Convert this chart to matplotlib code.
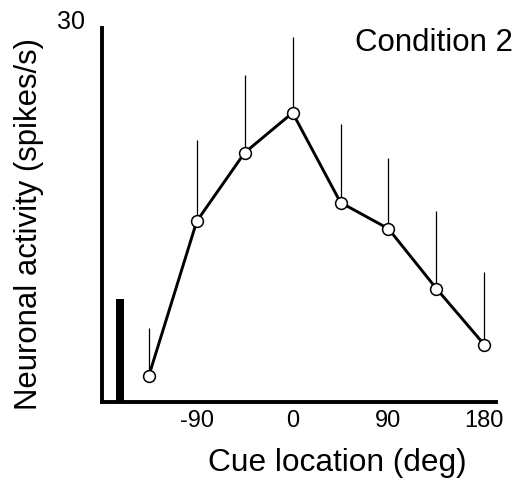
import numpy as np
import matplotlib
matplotlib.use('Agg')
import matplotlib.pyplot as plt

plt.rcParams['font.family'] = ['Liberation Sans', 'DejaVu Sans']

# cue locations (deg) and mean activity with upward error bars
cue_deg = [-135, -90, -45, 0, 45, 90, 135, 180]
rate = [2.1, 14.5, 20.0, 23.2, 16.0, 13.9, 9.1, 4.6]
err_up = [3.8, 6.5, 6.2, 6.1, 6.3, 5.7, 6.2, 5.8]
baseline_x = -162
baseline = 8.3
xticks = [-90, 0, 90, 180]

fig = plt.figure(figsize=(5.15, 4.83), dpi=100)
ax = fig.add_axes([102 / 515, 81 / 483, 394 / 515, 374 / 483])

ax.bar([baseline_x], [baseline], width=6.9, color='black', zorder=2)
ax.errorbar(cue_deg, rate, yerr=[np.zeros(len(err_up)), err_up], fmt='none',
            ecolor='black', elinewidth=0.9, capsize=0, zorder=2)
ax.plot(cue_deg, rate, color='black', lw=2.1, marker='o', ms=8.5,
        mfc='white', mec='black', mew=1.1, zorder=3)

ax.set_xlim(-179, 191)
ax.set_ylim(0, 30)
ax.set_xticks(xticks)
ax.set_xticklabels([str(t) for t in xticks], fontsize=17)
ax.set_yticks([])
ax.tick_params(axis='x', length=0, pad=6)
for s in ['top', 'right']:
    ax.spines[s].set_visible(False)
for s in ['left', 'bottom']:
    ax.spines[s].set_linewidth(2.8)

ax.text(-0.043, 1.016, '30', transform=ax.transAxes, ha='right', va='center', fontsize=18)
ax.text(1.043, 0.96, 'Condition 2', transform=ax.transAxes, ha='right', va='center', fontsize=22.5)

fig.text(337 / 515, 1 - 463 / 483, 'Cue location (deg)', ha='center', va='center', fontsize=22.8)
fig.text(29 / 515, 1 - 224 / 483, 'Neuronal activity (spikes/s)', ha='center', va='center',
         rotation=90, fontsize=22.4)

fig.savefig('out.png', dpi=100)
